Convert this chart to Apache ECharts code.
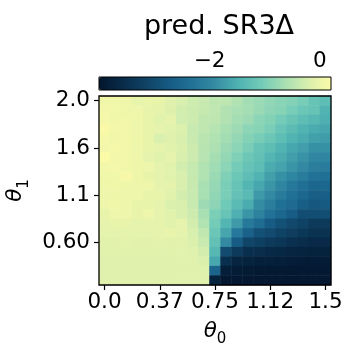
<!DOCTYPE html>
<html>
<head>
<meta charset="utf-8">
<script src="https://cdn.jsdelivr.net/npm/echarts@6/dist/echarts.min.js"></script>
<style>html,body{margin:0;padding:0;background:#fff}#c{width:353px;height:354px}</style>
</head>
<body>
<div id="c"></div>
<script>
// theta0 (columns, left to right)
const thetaX = [0.0, 0.075, 0.15, 0.225, 0.3, 0.375, 0.45, 0.525, 0.6, 0.675, 0.75, 0.825, 0.9, 0.975, 1.05, 1.125, 1.2, 1.275, 1.35, 1.425, 1.5];
const xTickIndex = [0, 5, 10, 15, 20];
const xTickLabels = ['0.0', '0.37', '0.75', '1.12', '1.5'];
// theta1 rows, top to bottom
const thetaYRows = ['r0','r1','r2','r3','r4','r5','r6','r7','r8','r9','r10','r11','r12','r13','r14','r15','r16','r17','r18','r19'];
const yTickRow = [0, 5, 10, 15];
const yTickLabels = ['2.0', '1.6', '1.1', '0.60'];
// colorbar
const cbarMin = -4, cbarMax = 0.2;
const cbarTicks = [-2, 0];
const cmap = ['#03162e','#082b49','#0f4264','#165a82','#217196','#348ca3','#4fb2b2','#72cbb8','#a8dfb3','#d8efae','#fbfaa7'];
// predicted SR3 delta, rows top (theta1=2.0) to bottom
const predRows = [
 [0.08, 0.08, 0.06, -0.04, 0.0, -0.02, -0.14, -0.22, -0.3, -0.36, -0.45, -0.45, -0.55, -0.68, -0.74, -0.82, -0.88, -0.93, -1.02, -1.2, -1.3],
 [0.1, 0.08, 0.05, 0.03, -0.03, -0.06, -0.16, -0.26, -0.33, -0.38, -0.43, -0.55, -0.62, -0.66, -0.76, -0.85, -0.9, -1.02, -1.15, -1.2, -1.45],
 [0.12, 0.08, 0.08, 0.05, -0.02, -0.12, -0.07, -0.28, -0.32, -0.42, -0.45, -0.55, -0.66, -0.72, -0.86, -0.92, -1.05, -1.17, -1.3, -1.4, -1.5],
 [0.18, 0.1, 0.08, 0.03, -0.02, -0.07, -0.12, -0.18, -0.36, -0.42, -0.52, -0.64, -0.72, -0.86, -0.9, -1.0, -1.18, -1.32, -1.45, -1.55, -1.62],
 [0.12, 0.08, 0.08, 0.05, -0.02, -0.2, -0.14, -0.22, -0.36, -0.48, -0.56, -0.68, -0.8, -0.92, -1.02, -1.15, -1.3, -1.45, -1.55, -1.68, -1.72],
 [0.1, 0.12, 0.09, 0.03, -0.02, -0.07, -0.12, -0.18, -0.32, -0.5, -0.6, -0.74, -0.86, -1.0, -1.2, -1.3, -1.45, -1.6, -1.7, -1.85, -1.85],
 [0.2, 0.1, 0.08, 0.03, -0.07, -0.12, -0.07, -0.22, -0.32, -0.5, -0.66, -0.8, -0.95, -1.12, -1.25, -1.42, -1.55, -1.7, -1.82, -1.98, -2.0],
 [0.1, 0.12, 0.08, 0.05, 0.03, -0.07, -0.12, -0.26, -0.38, -0.56, -0.7, -0.86, -1.05, -1.2, -1.3, -1.55, -1.65, -1.8, -1.95, -2.1, -2.15],
 [0.08, 0.08, 0.15, 0.05, -0.02, -0.07, -0.12, -0.22, -0.38, -0.56, -0.75, -0.95, -1.12, -1.3, -1.45, -1.68, -1.85, -2.0, -2.15, -2.3, -2.35],
 [0.05, 0.08, 0.05, 0.03, 0.03, -0.07, -0.07, -0.22, -0.36, -0.64, -0.78, -1.0, -1.2, -1.42, -1.6, -1.8, -2.0, -2.2, -2.35, -2.5, -2.5],
 [0.03, 0.05, 0.03, 0.03, -0.02, -0.02, -0.12, -0.26, -0.36, -0.64, -0.82, -1.0, -1.22, -1.35, -1.75, -1.95, -2.15, -2.35, -2.5, -2.65, -2.65],
 [0.03, 0.08, 0.03, -0.02, -0.02, -0.07, -0.18, -0.22, -0.36, -0.72, -0.85, -1.08, -1.35, -1.55, -1.9, -2.1, -2.35, -2.45, -2.65, -2.8, -2.75],
 [-0.02, 0.03, 0.03, -0.02, 0.03, -0.07, -0.12, -0.22, -0.32, -0.64, -0.98, -1.18, -1.5, -1.8, -2.05, -2.3, -2.5, -2.7, -2.95, -2.95, -2.95],
 [-0.07, -0.02, -0.02, -0.07, -0.07, -0.07, -0.12, -0.07, -0.26, -0.56, -1.05, -1.42, -1.75, -2.2, -2.4, -2.7, -2.9, -3.05, -3.15, -3.3, -3.3],
 [-0.07, -0.07, -0.07, -0.07, -0.07, -0.07, -0.02, -0.07, -0.22, -0.42, -1.15, -1.62, -2.2, -2.6, -2.9, -3.0, -3.15, -3.25, -3.35, -3.45, -3.45],
 [-0.1, -0.1, -0.08, -0.1, -0.1, -0.08, -0.1, -0.1, -0.18, -0.36, -1.25, -1.95, -2.7, -3.1, -3.2, -3.3, -3.38, -3.48, -3.55, -3.6, -3.6],
 [-0.12, -0.12, -0.12, -0.12, -0.12, -0.12, -0.12, -0.12, -0.14, -0.26, -1.4, -3.0, -3.3, -3.5, -3.55, -3.6, -3.65, -3.7, -3.72, -3.75, -3.75],
 [-0.14, -0.14, -0.14, -0.14, -0.14, -0.14, -0.14, -0.14, -0.14, -0.18, -1.6, -3.5, -3.7, -3.75, -3.8, -3.8, -3.82, -3.85, -3.87, -3.88, -3.87],
 [-0.14, -0.14, -0.14, -0.14, -0.14, -0.14, -0.14, -0.14, -0.14, -0.15, -2.55, -3.82, -3.87, -3.9, -3.92, -3.92, -3.92, -3.92, -3.92, -3.92, -3.92],
 [-0.14, -0.14, -0.14, -0.14, -0.14, -0.14, -0.14, -0.14, -0.14, -0.14, -3.75, -3.95, -3.95, -3.95, -3.95, -3.95, -3.95, -3.95, -3.95, -3.95, -3.95]
];

const nRows = predRows.length;
const heatData = [];
predRows.forEach((row, r) => row.forEach((v, c) => heatData.push([c, nRows - 1 - r, v])));
const yCats = thetaYRows.slice().reverse();

const FONT = 'DejaVu Sans';
const TICK_FS = 21.5;
const fmtMinus = v => (v < 0 ? '\u2212' + Math.abs(v) : String(v));
const nameRich = {
  t: {fontFamily: FONT, fontStyle: 'italic', fontSize: 21.5, color: '#000', lineHeight: 24, verticalAlign: 'top'},
  s: {fontFamily: FONT, fontSize: 15, color: '#000', lineHeight: 15, padding: [12, 0, 0, 0], verticalAlign: 'top'}
};

const chart = echarts.init(document.getElementById('c'), null, {renderer: 'canvas'});
chart.setOption({
  animation: false,
  backgroundColor: '#fff',
  title: {
    text: 'pred. SR3\u0394', left: 214, top: 8, textAlign: 'center',
    textStyle: {fontFamily: FONT, fontSize: 27, fontWeight: 'normal', color: '#000'}
  },
  grid: [
    {left: 99, top: 96, width: 232, height: 189, show: true, borderColor: '#000', borderWidth: 1.3, backgroundColor: 'transparent', z: 5, containLabel: false, outerBoundsMode: 'none'},
    {left: 99, top: 77, width: 232, height: 13, show: true, borderColor: '#000', borderWidth: 1, backgroundColor: 'transparent', z: 10, containLabel: false, outerBoundsMode: 'none'}
  ],
  xAxis: [
    {
      gridIndex: 0, type: 'category', data: thetaX.map(String), position: 'bottom',
      axisLine: {show: false},
      axisTick: {show: true, alignWithLabel: true, length: 5, lineStyle: {color: '#000', width: 1.2},
        interval: (i) => xTickIndex.indexOf(i) >= 0},
      axisLabel: {interval: (i) => xTickIndex.indexOf(i) >= 0, margin: 6,
        formatter: (val, i) => xTickLabels[xTickIndex.indexOf(i)] || '',
        fontFamily: FONT, fontSize: TICK_FS, color: '#000'},
      splitLine: {show: false},
      name: '{t|\u03b8}{s|0}', nameLocation: 'middle', nameGap: 35,
      nameTextStyle: {rich: nameRich}
    },
    {
      gridIndex: 1, type: 'value', min: cbarMin, max: cbarMax, position: 'top',
      axisLine: {show: false},
      axisTick: {show: true, length: 5, lineStyle: {color: '#000', width: 1.2}, customValues: cbarTicks},
      axisLabel: {customValues: cbarTicks, formatter: fmtMinus, margin: 5, fontFamily: FONT, fontSize: TICK_FS, color: '#000'},
      splitLine: {show: false}
    }
  ],
  yAxis: [
    {
      gridIndex: 0, type: 'category', data: yCats,
      axisLine: {show: false},
      axisTick: {show: true, alignWithLabel: true, length: 5, lineStyle: {color: '#000', width: 1.2},
        interval: (i) => yTickRow.indexOf(nRows - 1 - i) >= 0},
      axisLabel: {interval: (i) => yTickRow.indexOf(nRows - 1 - i) >= 0, margin: 9,
        formatter: (val, i) => yTickLabels[yTickRow.indexOf(nRows - 1 - i)] || '',
        fontFamily: FONT, fontSize: TICK_FS, color: '#000'},
      splitLine: {show: false},
      name: '{t|\u03b8}{s|1}', nameLocation: 'middle', nameGap: 66, nameRotate: 90,
      nameTextStyle: {rich: nameRich}
    },
    {gridIndex: 1, type: 'value', min: 0, max: 1, show: false}
  ],
  visualMap: {
    type: 'continuous', min: cbarMin, max: cbarMax, seriesIndex: 0,
    orient: 'horizontal', left: 99, top: 77, itemWidth: 13, itemHeight: 232,
    padding: 0, calculable: false, hoverLink: false, showLabel: false,
    inRange: {color: cmap}
  },
  series: [{
    type: 'heatmap', xAxisIndex: 0, yAxisIndex: 0, data: heatData,
    itemStyle: {borderWidth: 0}, emphasis: {disabled: true}
  }]
});
</script>
</body>
</html>
